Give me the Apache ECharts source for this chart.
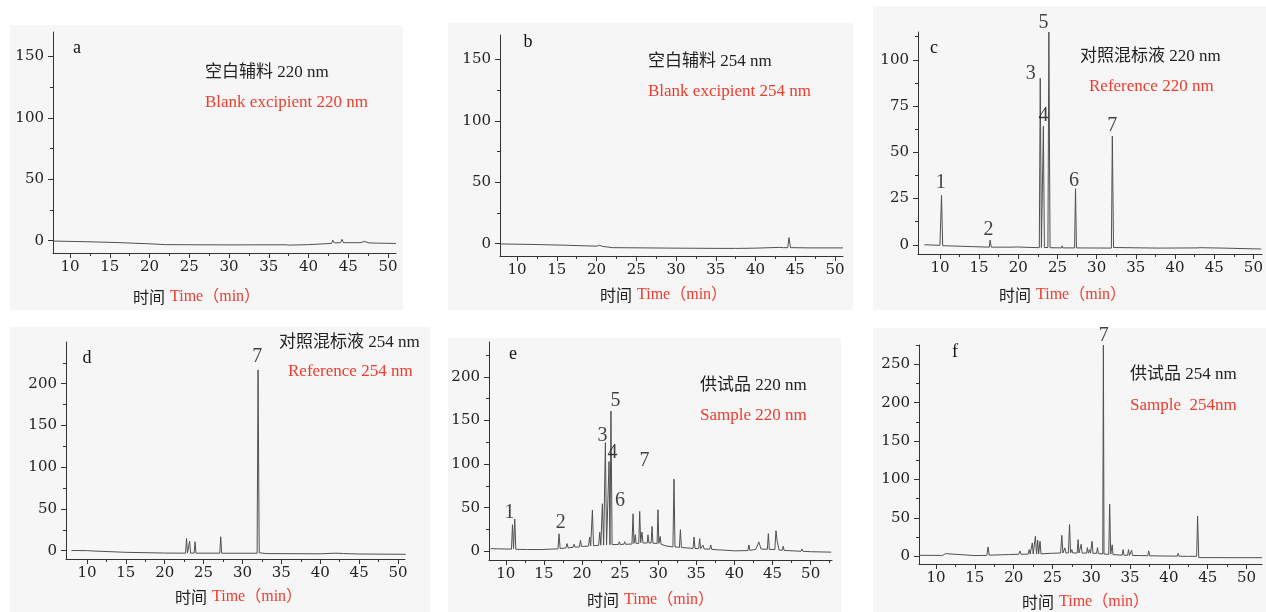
<!DOCTYPE html>
<html>
<head>
<meta charset="utf-8">
<script src="https://cdn.jsdelivr.net/npm/echarts@6/dist/echarts.min.js"></script>
<style>
html, body { margin: 0; padding: 0; background: #fff; }
#main { width: 1266px; height: 612px; }
</style>
</head>
<body>
<div id="main"></div>
<script>
// 色谱图数据 [时间 min, 响应值]
var traceA = [[8,-0.3],[12,-0.8],[16,-1.5],[20,-2.5],[22,-3.2],[30,-3.4],[37.2,-3.3],[37.35,-2.3],[37.5,-3.6],[40,-3.2],[42.9,-2.2],[43.05,0.4],[43.25,-1.8],[44.05,-1.5],[44.2,1.2],[44.4,-1.6],[46.6,-1.6],[47,-0.5],[47.6,-1.8],[49,-2],[51,-2.2]];
var traceB = [[8,-0.2],[12,-0.6],[16,-1.2],[20,-2],[20.4,-1.2],[20.7,-2.1],[22,-3.2],[30,-3.6],[35,-3.8],[37.5,-3.8],[37.6,-3.4],[37.8,-3.8],[40,-3.6],[43,-3],[43.2,-2.4],[43.5,-3.2],[44.05,-3.2],[44.2,5],[44.4,-3.2],[47,-3.4],[51,-3.4]];
var traceC = [[8,0],[10,-0.3],[10.08,-0.3],[10.2,26.7],[10.35,-0.5],[14,-1],[16.3,-1.3],[16.4,2.5],[16.55,-1.3],[19.2,-1.3],[19.4,-0.3],[19.8,-1.2],[22.68,-1.6],[22.8,90],[22.95,-1.5],[23.08,-1.5],[23.2,64],[23.33,-1.5],[23.78,-1.5],[23.9,115],[24.05,-1.6],[25.5,-1.7],[25.6,-0.6],[25.7,-1.7],[27.18,-1.7],[27.3,30.3],[27.42,-1.7],[31.88,-1.8],[32.0,58.8],[32.15,-1.5],[37.8,-1.8],[38,-1.2],[38.3,-1.8],[42.8,-1.7],[42.95,-0.8],[43.3,-1.6],[46,-1.8],[51,-2.3]];
var traceD = [[8,0.2],[10.1,0],[10.3,1.2],[10.5,-0.3],[15,-2],[19.7,-2.8],[19.85,-2],[20.0,-2.9],[22.68,-3],[22.8,14.6],[22.92,-2.8],[23.08,-2.8],[23.2,11.5],[23.32,-2.9],[23.78,-2.9],[23.9,10.7],[24.02,-3],[27.08,-3],[27.2,16.6],[27.32,-3.1],[31.88,-3.1],[32.0,216.6],[32.15,-2.5],[33,-3.5],[40,-3.8],[42,-3],[43,-3.5],[45,-4],[51,-4.4]];
var traceE = [[8,3],[8.45,3],[8.6,4.5],[8.75,2.8],[10.75,2.5],[10.88,30.5],[11.02,3],[11.06,3],[11.18,37],[11.32,2.3],[12.55,2],[12.7,3.5],[12.85,2],[14.35,2],[14.5,3],[14.65,2],[16.85,2.8],[16.99,20],[17.13,3.2],[17.9,3.8],[18.04,8.8],[18.18,4],[18.82,4.5],[18.96,8],[19.1,4.8],[19.66,5],[19.8,12.5],[19.94,5.5],[20.86,6],[21.0,16.4],[21.14,6.2],[21.23,6.2],[21.37,47.3],[21.51,6.4],[22.19,6.8],[22.33,21.7],[22.47,7],[22.54,7],[22.68,54.5],[22.84,7],[22.93,7.2],[23.07,124.6],[23.22,7.3],[23.43,7.3],[23.55,102.9],[23.67,7.5],[23.7,7.5],[23.8,160.8],[23.95,7.6],[24.78,7.8],[24.9,11],[25.02,7.8],[25.48,8],[25.6,11],[25.72,8],[26.56,8.3],[26.7,43],[26.82,9],[26.9,9],[27.0,19],[27.1,9],[27.45,9],[27.57,45.7],[27.7,10],[27.75,10],[27.87,22],[28.0,9.5],[28.55,9.5],[28.66,18.9],[28.78,9.5],[29.07,9.5],[29.19,28.6],[29.31,9.3],[29.85,9],[29.97,47.6],[30.08,9],[30.12,9],[30.25,17],[30.38,8],[31.0,6.2],[31.93,5],[32.07,82.7],[32.2,5],[32.78,4.5],[32.91,24.8],[33.04,4.3],[34.57,3.3],[34.7,16.4],[34.83,3.2],[35.31,3],[35.44,14.5],[35.57,3],[35.75,2.8],[35.88,7],[36.01,2.7],[36.76,2.4],[36.89,7.3],[37.02,2.2],[38.05,1.5],[38.2,3],[38.35,1.5],[38.5,3],[38.65,1.3],[40,0.5],[41.77,0.8],[41.9,7.3],[42.03,1],[42.8,2.2],[43.2,10.7],[43.5,2.5],[44.32,2.3],[44.45,20.2],[44.58,2.2],[45.3,2],[45.45,23.6],[45.6,12],[45.7,12],[45.85,1.5],[46.28,1.2],[46.4,5.8],[46.52,1],[48.73,0],[48.86,2.7],[49.0,0],[50,-0.5],[52.7,-1]];
var traceF = [[7.8,1.3],[10.55,1.2],[10.7,3.5],[10.85,1.2],[11.05,1.2],[11.2,3.5],[11.35,1.2],[15,1],[16.55,1.2],[16.7,12.2],[16.85,1.5],[19.35,2.3],[19.5,4.8],[19.65,2.4],[20.65,2.6],[20.8,7],[20.95,2.7],[21.85,2.8],[22.0,8.7],[22.12,2.9],[22.28,2.9],[22.4,17.4],[22.52,3],[22.68,3],[22.8,26],[22.95,3],[23.0,3],[23.1,21],[23.22,3],[23.28,3],[23.4,19.6],[23.52,3.2],[25,4],[26.05,4.3],[26.2,27.4],[26.35,4.3],[26.48,4.3],[26.6,11],[26.72,4.4],[27.05,4.4],[27.2,41.3],[27.33,4.4],[27.4,4.4],[27.5,8.7],[27.6,4.4],[28.18,4.3],[28.3,21.7],[28.42,4.3],[28.58,4.3],[28.7,15.7],[28.82,4.2],[29.38,4.2],[29.5,11.3],[29.62,4.1],[29.7,4.1],[29.8,8.7],[29.9,4],[29.98,4],[30.1,19.6],[30.22,4],[30.68,3.8],[30.8,11.3],[30.92,3.6],[31.48,3],[31.56,275],[31.64,3],[32.25,2.6],[32.37,67.8],[32.5,3],[32.6,3],[32.7,15],[32.8,2.2],[33.98,1.5],[34.1,8.7],[34.22,1.4],[34.68,1.3],[34.8,8.7],[34.92,1.2],[35.08,1.2],[35.2,7.8],[35.32,1.1],[36.18,1],[36.3,2.6],[36.42,0.9],[37.28,0.8],[37.4,7],[37.52,0.7],[38.6,0.5],[38.7,1.3],[38.8,0.4],[41.08,0.2],[41.2,3.9],[41.32,0.1],[42.4,0],[42.5,0.8],[42.6,-0.2],[43.58,0],[43.7,52.2],[43.85,-1.7],[52,-1.8]];

// 峰号标注 [名称, 时间, 纵向位置]
var labelsC = [['1',10.1,33.4],['2',16.2,8.2],['3',21.6,92.5],['4',23.2,70],['5',23.2,120],['6',27.1,34.8],['7',32.0,64.2]];
var labelsD = [['7',31.9,232]];
var labelsE = [['1',10.5,43.8],['2',17.2,32.4],['3',22.7,133],['4',24.0,113],['5',24.4,173],['6',25.0,58.3],['7',28.2,104]];
var labelsF = [['7',31.6,287]];

// 刻度
var xMajor = [10,15,20,25,30,35,40,45,50];
var xMinor = [12.5,17.5,22.5,27.5,32.5,37.5,42.5,47.5,52.5];
var yMajor150 = [0,50,100,150], yMinor150 = [25,75,125];
var yMajor100 = [0,25,50,75,100], yMinor100 = [12.5,37.5,62.5,87.5,112.5];
var yMajor200 = [0,50,100,150,200], yMinor200 = [25,75,125,175,225];
var yMajor250 = [0,50,100,150,200,250], yMinor250 = [25,75,125,175,225,275];

var RED = '#ee3b2e';
var INK = '#222';
var SERIF = '"Liberation Serif", "Noto Sans CJK SC", serif';
var TICKFONT = 'DejaVu Serif';

var panels = [
    { grid: [53, 32, 343, 221], box: [10, 25, 393, 285], x: [7.86, 51], y: [-10, 170], yMaj: yMajor150, yMin: yMinor150, trace: traceA, labels: [],
      letter: ['a', 77, 48], t1: ['空白辅料 220 nm', 205, 73], t2: ['Blank excipient 220 nm', 205, 103], axisName: [133, 297] },
    { grid: [500, 35, 343, 221], box: [448, 23, 405, 287], x: [7.86, 51], y: [-10, 170], yMaj: yMajor150, yMin: yMinor150, trace: traceB, labels: [],
      letter: ['b', 528, 42], t1: ['空白辅料 254 nm', 648, 62], t2: ['Blank excipient 254 nm', 648, 92], axisName: [600, 295] },
    { grid: [918, 32, 344, 222], box: [873, 6, 393, 304], x: [7.2, 51.1], y: [-5, 115], yMaj: yMajor100, yMin: yMinor100, trace: traceC, labels: labelsC,
      letter: ['c', 934, 48], t1: ['对照混标液 220 nm', 1080, 57], t2: ['Reference 220 nm', 1089, 87], axisName: [999, 295] },
    { grid: [66, 342, 339, 217], box: [10, 327, 420, 285], x: [7.3, 50.9], y: [-10, 250], yMaj: yMajor200, yMin: yMinor200, trace: traceD, labels: labelsD,
      letter: ['d', 87, 358], t1: ['对照混标液 254 nm', 279, 343], t2: ['Reference 254 nm', 288, 372], axisName: [175, 597] },
    { grid: [489, 342, 343, 218], box: [448, 338, 393, 274], x: [7.8, 52.8], y: [-10, 240], yMaj: yMajor200, yMin: yMinor200, trace: traceE, labels: labelsE,
      letter: ['e', 513, 354], t1: ['供试品 220 nm', 700, 386], t2: ['Sample 220 nm', 700, 416], axisName: [587, 600] },
    { grid: [919, 345, 343, 219], box: [873, 328, 393, 284], x: [7.8, 52], y: [-10, 275], yMaj: yMajor250, yMin: yMinor250, trace: traceF, labels: labelsF,
      letter: ['f', 955, 352], t1: ['供试品 254 nm', 1130, 375], t2: ['Sample  254nm', 1130, 406], axisName: [1022, 602] }
];

function inRange(vals, r) {
    return vals.filter(function (v) { return v >= r[0] && v <= r[1]; });
}

var grids = [], xAxes = [], yAxes = [], series = [], graphics = [];

panels.forEach(function (p, i) {
    grids.push({ left: p.grid[0], top: p.grid[1], width: p.grid[2], height: p.grid[3], containLabel: false });

    // 主刻度 + 标签
    xAxes.push({
        type: 'value', gridIndex: i, min: p.x[0], max: p.x[1], position: 'bottom',
        axisLine: { onZero: false, lineStyle: { color: '#333', width: 1 } },
        axisTick: { customValues: xMajor, length: 5, lineStyle: { color: '#333' } },
        axisLabel: { customValues: xMajor, margin: 7, fontFamily: TICKFONT, fontSize: 15, color: '#222' },
        splitLine: { show: false }
    });
    // 次刻度
    xAxes.push({
        type: 'value', gridIndex: i, min: p.x[0], max: p.x[1], position: 'bottom',
        axisLine: { show: false, onZero: false },
        axisTick: { customValues: inRange(xMinor, p.x), length: 3, lineStyle: { color: '#333' } },
        axisLabel: { show: false },
        splitLine: { show: false }
    });
    yAxes.push({
        type: 'value', gridIndex: i, min: p.y[0], max: p.y[1], position: 'left',
        axisLine: { show: true, onZero: false, lineStyle: { color: '#333', width: 1 } },
        axisTick: { show: true, customValues: p.yMaj, length: 5, lineStyle: { color: '#333' } },
        axisLabel: { customValues: p.yMaj, margin: 9, fontFamily: TICKFONT, fontSize: 15, color: '#222' },
        splitLine: { show: false }
    });
    yAxes.push({
        type: 'value', gridIndex: i, min: p.y[0], max: p.y[1], position: 'left',
        axisLine: { show: false, onZero: false },
        axisTick: { show: true, customValues: inRange(p.yMin, p.y), length: 3, lineStyle: { color: '#333' } },
        axisLabel: { show: false },
        splitLine: { show: false }
    });

    series.push({
        type: 'line', xAxisIndex: 2 * i, yAxisIndex: 2 * i,
        data: p.trace, showSymbol: false, symbol: 'none', smooth: false,
        lineStyle: { color: '#505050', width: 1 }, z: 3
    });
    if (p.labels.length) {
        series.push({
            type: 'scatter', xAxisIndex: 2 * i, yAxisIndex: 2 * i, clip: false,
            symbolSize: 1, itemStyle: { color: 'rgba(0,0,0,0)' },
            data: p.labels.map(function (l) { return { name: l[0], value: [l[1], l[2]] }; }),
            label: { show: true, position: 'inside', formatter: '{b}', fontFamily: SERIF, fontSize: 20, color: '#111' },
            z: 4
        });
    }

    // 面板底色
    graphics.push({ type: 'rect', z: -10, silent: true, shape: { x: p.box[0], y: p.box[1], width: p.box[2], height: p.box[3] }, style: { fill: '#f6f6f6' } });
    graphics.push({ type: 'text', z: 10, style: { text: p.letter[0], x: p.letter[1], y: p.letter[2], font: '18px ' + SERIF, fill: '#111', textAlign: 'center', textVerticalAlign: 'middle' } });
    graphics.push({ type: 'text', z: 10, style: { text: p.t1[0], x: p.t1[1], y: p.t1[2], font: '17px ' + SERIF, fill: INK, textAlign: 'left', textVerticalAlign: 'middle' } });
    graphics.push({ type: 'text', z: 10, style: { text: p.t2[0], x: p.t2[1], y: p.t2[2], font: '17px ' + SERIF, fill: RED, textAlign: 'left', textVerticalAlign: 'middle' } });
    graphics.push({ type: 'text', z: 10, style: { text: '时间', x: p.axisName[0], y: p.axisName[1], font: '16px "Noto Sans CJK SC", sans-serif', fill: INK, textAlign: 'left', textVerticalAlign: 'middle' } });
    graphics.push({ type: 'text', z: 10, style: { text: 'Time（min）', x: p.axisName[0] + 37, y: p.axisName[1], font: '16px ' + SERIF, fill: RED, textAlign: 'left', textVerticalAlign: 'middle' } });
});

var myChart = echarts.init(document.getElementById('main'), null, { renderer: 'canvas' });
myChart.setOption({
    animation: false,
    backgroundColor: '#fff',
    grid: grids,
    xAxis: xAxes,
    yAxis: yAxes,
    series: series,
    graphic: graphics
});
</script>
</body>
</html>
